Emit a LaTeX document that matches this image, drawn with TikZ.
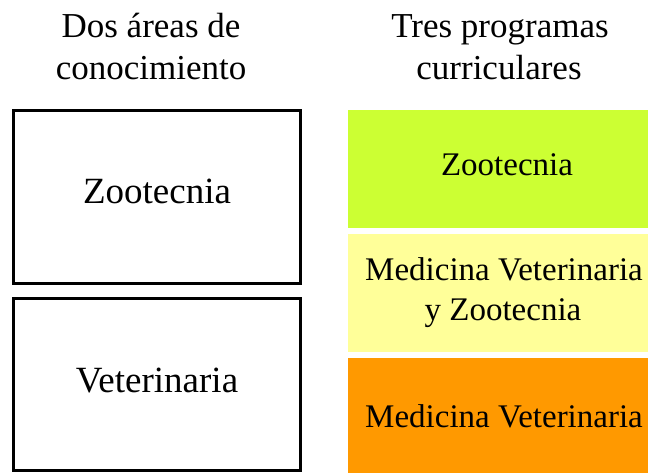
\documentclass[tikz,border=0pt]{standalone}
\usepackage{fontspec}
\setmainfont{Liberation Serif}
\definecolor{progzoo}{HTML}{CCFF33}
\definecolor{progmvz}{HTML}{FFFF99}
\definecolor{progmv}{HTML}{FF9900}
\newcommand{\HEADSIZE}{\fontsize{35}{42}\selectfont}
\newcommand{\AREASIZE}{\fontsize{37}{44}\selectfont}
\newcommand{\PROGSIZE}{\fontsize{33}{40}\selectfont}

\begin{document}
\begin{tikzpicture}[x=1pt,y=-1pt]
    \clip (0,0) rectangle (648,472);

    % column headers
    \node[anchor=base,font=\HEADSIZE](h0a) at (151,37) {Dos áreas de};
    \node[anchor=base,font=\HEADSIZE](h0b) at (151,79) {conocimiento};
    \node[anchor=base,font=\HEADSIZE](h1a) at (500,37) {Tres programas};
    \node[anchor=base,font=\HEADSIZE](h1b) at (499,79) {curriculares};

    % two areas (left)
    \node[draw,line width=3pt,inner sep=0pt,minimum width=287pt,minimum height=173pt](a0) at (157,197) {};
    \node[draw,line width=3pt,inner sep=0pt,minimum width=287pt,minimum height=172pt](a1) at (157,384.5) {};
    \node[anchor=base,font=\AREASIZE](a0t) at (157,203) {Zootecnia};
    \node[anchor=base,font=\AREASIZE](a1t) at (157,392) {Veterinaria};

    % three programmes (right)
    \foreach \y/\c [count=\i from 0] in {169/progzoo,293/progmvz,417/progmv}{%
        \node[fill=\c,inner sep=0pt,minimum width=314pt,minimum height=118pt](p\i) at (505,\y) {};
    }
    \node[anchor=base,font=\PROGSIZE](p0t) at (507,175) {Zootecnia};
    \node[anchor=base,font=\PROGSIZE](p1t) at (504,280) {Medicina Veterinaria};
    \node[anchor=base,font=\PROGSIZE](p1u) at (503,320) {y Zootecnia};
    \node[anchor=base,font=\PROGSIZE](p2t) at (504,427) {Medicina Veterinaria};

\end{tikzpicture}
\end{document}
